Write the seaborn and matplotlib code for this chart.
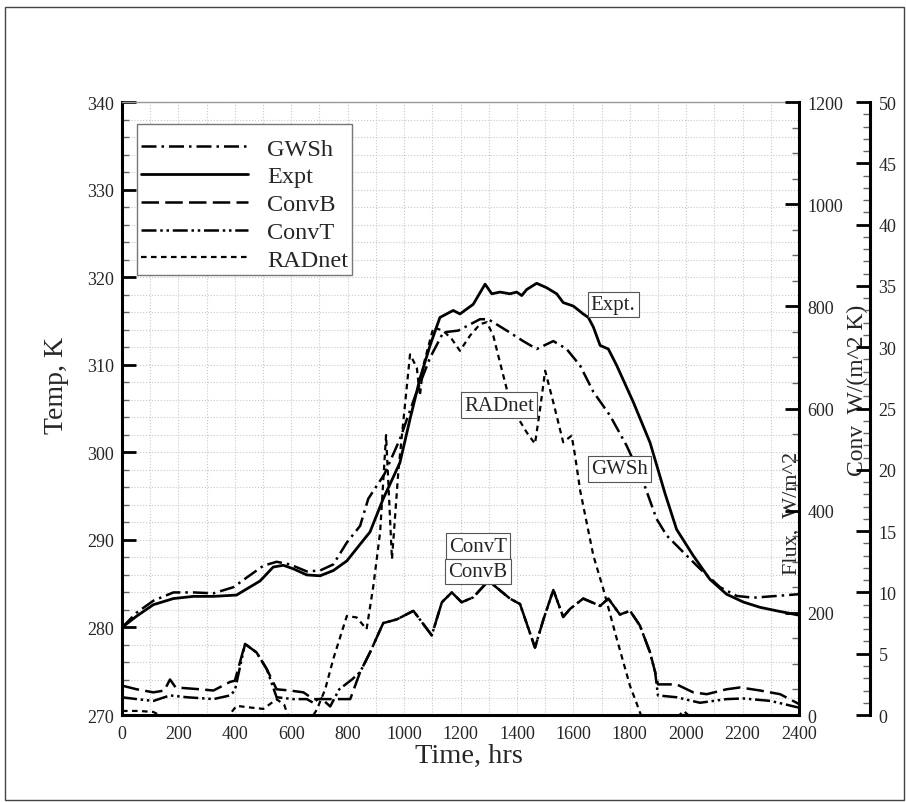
import matplotlib
matplotlib.use("Agg")
import matplotlib.pyplot as plt
from matplotlib.patches import Rectangle
from matplotlib.ticker import MultipleLocator
import pandas as pd
import seaborn as sns

# Temperatures (K)
expt_t = [0, 52, 111, 182, 253, 324, 406, 442, 489, 536,
          572, 607, 655, 702, 749, 797, 844, 879, 926, 985,
          1021, 1056, 1092, 1127, 1174, 1198, 1245, 1287, 1311, 1340,
          1375, 1399, 1417, 1435, 1470, 1505, 1541, 1564, 1600, 1635,
          1653, 1671, 1695, 1724, 1754, 1813, 1872, 1925, 1966, 2025,
          2084, 2143, 2203, 2262, 2321, 2400]
expt = [280.0, 281.3, 282.6, 283.3, 283.55, 283.55, 283.7, 284.4, 285.3, 286.9,
        287.1, 286.7, 286.0, 285.9, 286.5, 287.6, 289.5, 290.9, 294.7, 298.8,
        303.8, 308.4, 312.2, 315.4, 316.2, 315.8, 316.9, 319.2, 318.1, 318.3,
        318.1, 318.3, 317.9, 318.6, 319.3, 318.8, 318.1, 317.1, 316.7, 315.8,
        315.4, 314.3, 312.2, 311.8, 309.9, 305.7, 301.1, 295.3, 291.2, 288.2,
        285.5, 283.8, 282.9, 282.3, 281.9, 281.4]

gwsh_t = [0, 52, 111, 182, 253, 324, 395, 442, 501, 548,
          595, 655, 702, 749, 797, 844, 873, 930, 985, 1040,
          1092, 1139, 1192, 1269, 1298, 1364, 1422, 1470, 1529, 1576,
          1624, 1671, 1730, 1789, 1848, 1895, 1931, 2002, 2049, 2120,
          2179, 2238, 2321, 2400]
gwsh = [280.0, 281.7, 283.05, 284.0, 284.0, 283.9, 284.6, 285.7, 287.05, 287.5,
        287.2, 286.4, 286.5, 287.2, 289.7, 291.6, 294.7, 297.5, 301.5, 306.5,
        310.8, 313.7, 313.9, 315.2, 315.2, 313.9, 312.7, 311.8, 312.7, 311.8,
        309.9, 306.9, 304.2, 300.75, 296.6, 292.4, 290.5, 288.2, 286.7, 284.6,
        283.6, 283.4, 283.6, 283.8]

# Net radiation (W/m^2), middle axis
rad_t = [0, 60, 111, 150, 200, 380, 406, 450, 501, 548,
         575, 600, 655, 690, 720, 749, 797, 832, 867, 891,
         915, 936, 957, 980, 1021, 1045, 1056, 1068, 1104, 1139,
         1169, 1198, 1234, 1269, 1293, 1316, 1340, 1364, 1399, 1435,
         1464, 1482, 1500, 1529, 1564, 1594, 1606, 1624, 1671, 1706,
         1754, 1801, 1825, 1836, 1870, 1960, 1990, 2030, 2080, 2400]
radnet = [8, 8, 6, -5, -30, 0, 18, 15, 12, 31,
          20, -20, -20, 10, 50, 110, 194, 191, 168, 253,
          358, 548, 305, 480, 706, 680, 625, 684, 759, 752,
          736, 713, 743, 765, 769, 743, 690, 638, 586, 553,
          531, 599, 674, 612, 534, 547, 508, 440, 312, 247,
          149, 57, 22, 5, -40, -10, 8, -10, -60, -80]

# Convection coefficients (W/(m^2 K)), outer axis
convb_t = [0, 52, 111, 150, 170, 190, 277, 324, 383, 400,
           436, 477, 513, 548, 595, 643, 678, 726, 809, 844,
           879, 926, 974, 1033, 1098, 1134, 1169, 1204, 1245, 1299,
           1375, 1411, 1464, 1494, 1529, 1564, 1588, 1635, 1695, 1724,
           1765, 1801, 1836, 1872, 1890, 1900, 1966, 2025, 2073, 2143,
           2191, 2262, 2333, 2400]
convb = [2.4, 2.1, 1.85, 2.0, 2.9, 2.25, 2.1, 2.0, 2.7, 2.8,
         5.8, 5.1, 3.75, 2.1, 2.0, 1.85, 1.3, 1.3, 1.3, 3.5,
         5.1, 7.5, 7.8, 8.5, 6.5, 9.2, 10.0, 9.2, 9.6, 10.95,
         9.5, 9.05, 5.5, 7.8, 10.2, 8.0, 8.65, 9.5, 8.9, 9.5,
         8.2, 8.5, 7.3, 5.1, 3.5, 2.5, 2.5, 1.85, 1.7, 2.1,
         2.25, 2.0, 1.7, 0.9]

convt_t = [0, 52, 111, 170, 230, 324, 383, 400, 436, 477,
           513, 548, 607, 655, 678, 702, 738, 770, 815, 844,
           879, 926, 974, 1033, 1098, 1134, 1169, 1204, 1245, 1299,
           1375, 1411, 1464, 1494, 1529, 1564, 1588, 1635, 1695, 1724,
           1765, 1801, 1836, 1872, 1890, 1900, 1966, 2049, 2143, 2203,
           2300, 2400]
convt = [1.45, 1.3, 1.15, 1.6, 1.45, 1.3, 1.6, 2.0, 5.8, 5.1,
         3.75, 1.45, 1.3, 1.3, 1.0, 1.45, 0.7, 2.1, 2.9, 3.5,
         5.1, 7.5, 7.8, 8.5, 6.5, 9.2, 10.0, 9.2, 9.6, 10.95,
         9.5, 9.05, 5.5, 7.8, 10.2, 8.0, 8.65, 9.5, 8.9, 9.5,
         8.2, 8.5, 7.3, 5.1, 3.5, 1.6, 1.45, 1.0, 1.3, 1.35,
         1.15, 0.6]

legend_order = ["GWSh", "Expt", "ConvB", "ConvT", "RADnet"]


sns.set_style("white")
plt.rcParams["font.family"] = ["Liberation Serif", "DejaVu Serif"]

fig = plt.figure(figsize=(9.06, 8.03), dpi=100)
ax = fig.add_axes([0.1347, 0.1083, 0.7472, 0.7634])
ax_flux = ax.twinx()
ax_conv = ax.twinx()

lines = {}

sns.lineplot(x=gwsh_t, y=gwsh, ax=ax, color="black", lw=1.8,
             linestyle=(0, (6, 2, 1, 2)), legend=False)
lines["GWSh"] = ax.lines[-1]
sns.lineplot(x=expt_t, y=expt, ax=ax, color="black", lw=2.0, legend=False)
lines["Expt"] = ax.lines[-1]

sns.lineplot(x=rad_t, y=radnet, ax=ax_flux, color="black", lw=1.6,
             linestyle=(0, (2.5, 2)), legend=False)
lines["RADnet"] = ax_flux.lines[-1]

sns.lineplot(x=convb_t, y=convb, ax=ax_conv, color="black", lw=1.8,
             linestyle=(0, (7, 2.5)), legend=False)
lines["ConvB"] = ax_conv.lines[-1]
sns.lineplot(x=convt_t, y=convt, ax=ax_conv, color="black", lw=1.8,
             linestyle=(0, (6, 1.5, 1, 1.5, 1, 1.5)), legend=False)
lines["ConvT"] = ax_conv.lines[-1]

ax.set_xlim(0, 2400)
ax.set_ylim(270, 340)
ax_flux.set_ylim(0, 1200)
ax_conv.set_ylim(0, 50)

ax.xaxis.set_major_locator(MultipleLocator(200))
ax.xaxis.set_minor_locator(MultipleLocator(100))
ax.yaxis.set_major_locator(MultipleLocator(10))
ax.yaxis.set_minor_locator(MultipleLocator(2))
ax_flux.yaxis.set_major_locator(MultipleLocator(200))
ax_flux.yaxis.set_minor_locator(MultipleLocator(50))
ax_conv.yaxis.set_major_locator(MultipleLocator(5))
ax_conv.yaxis.set_minor_locator(MultipleLocator(1))

ax.grid(which="both", color="#c8c8c8", linestyle=":", linewidth=0.8)
ax.set_axisbelow(True)

for a in (ax, ax_flux, ax_conv):
    a.tick_params(which="major", direction="in", length=10, width=2,
                  labelsize=13, pad=6, color="black")
    a.tick_params(which="minor", direction="in", length=5, width=1,
                  color="#666666")
ax.tick_params(which="both", top=False, right=False)
ax.tick_params(axis="x", pad=7)

for a in (ax_flux, ax_conv):
    for side in ("top", "left", "bottom"):
        a.spines[side].set_visible(False)
    a.spines["right"].set_linewidth(2.2)
    a.spines["right"].set_color("black")
ax_conv.spines["right"].set_position(("axes", 1.105))

ax.spines["right"].set_visible(False)
ax.spines["top"].set_color("#999999")
ax.spines["top"].set_linewidth(1)
for side in ("left", "bottom"):
    ax.spines[side].set_linewidth(2.2)
    ax.spines[side].set_color("black")

ax.set_xlabel("Time, hrs", fontsize=20.5)
ax.xaxis.set_label_coords(0.513, -0.045)
ax.set_ylabel("Temp, K", fontsize=20)
ax.yaxis.set_label_coords(-0.078, 0.54)
ax_flux.set_ylabel("")
ax_conv.set_ylabel("")
ax.text(0.99, 0.33, "Flux,  W/m^2", transform=ax.transAxes, rotation=90,
        ha="center", va="center", fontsize=16, clip_on=False)
ax.text(1.0857, 0.532, "Conv  W/(m^2 K)", transform=ax.transAxes, rotation=90,
        ha="center", va="center", fontsize=17, clip_on=False, zorder=10)

leg = ax_conv.legend([lines[k] for k in legend_order], legend_order,
                     loc="upper left", bbox_to_anchor=(0.022, 0.964),
                     borderaxespad=0, fontsize=17.5, handlelength=4.4,
                     handletextpad=0.8, labelspacing=0.24, borderpad=0.15,
                     title=" ", title_fontsize=3,
                     fancybox=False, framealpha=1, edgecolor="#777777")
leg.get_frame().set_linewidth(1)

box = dict(boxstyle="square,pad=0.15", fc="white", ec="#555555", lw=0.8)
notes = [("Expt.", 1741, 316.9), ("RADnet", 1337, 305.4), ("GWSh", 1765, 298.1),
         ("ConvT", 1262, 289.3), ("ConvB", 1262, 286.4)]
for txt, nx, ny in notes:
    ax_conv.text(nx, ny, txt, transform=ax.transData, fontsize=15,
                 ha="center", va="center", bbox=box, zorder=20)

fig.patches.append(Rectangle((0.0055, 0.0025), 0.992, 0.9875,
                             transform=fig.transFigure, fill=False,
                             ec="#444444", lw=1))

fig.savefig("out.png", dpi=100)
